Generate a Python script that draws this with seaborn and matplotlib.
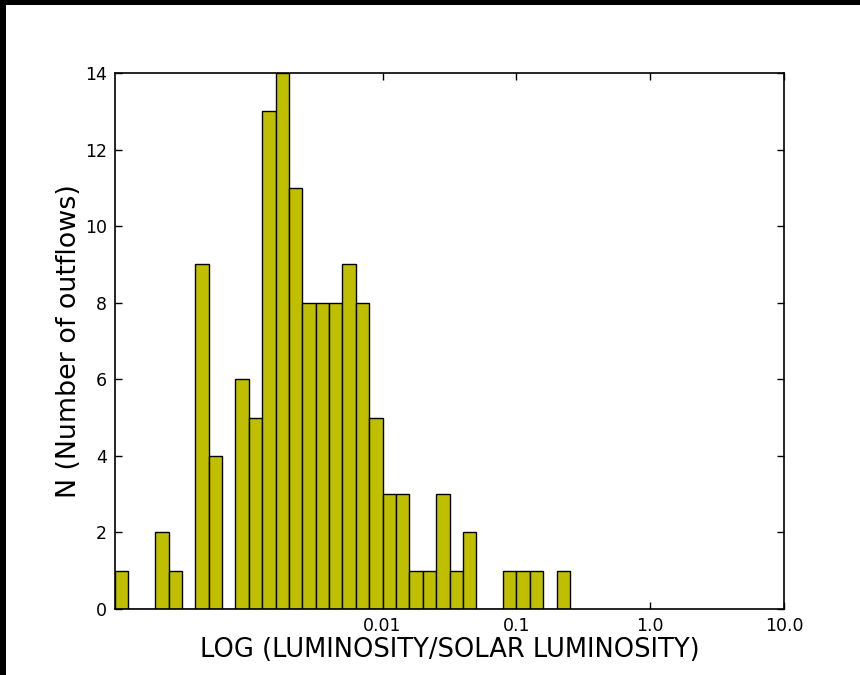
import numpy as np
import pandas as pd
import matplotlib
matplotlib.use("Agg")
import matplotlib.pyplot as plt
import seaborn as sns
from matplotlib.patches import Rectangle

# log10(L/Lsun) bin centres and counts
log_lum = [-3.95, -3.85, -3.75, -3.65, -3.55, -3.45, -3.35, -3.25, -3.15, -3.05,
           -2.95, -2.85, -2.75, -2.65, -2.55, -2.45, -2.35, -2.25, -2.15, -2.05,
           -1.95, -1.85, -1.75, -1.65, -1.55, -1.45, -1.35, -1.25, -1.15, -1.05,
           -0.95, -0.85, -0.75, -0.65]
counts = [1, 0, 0, 2, 1, 0, 9, 4, 0, 6,
          5, 13, 14, 11, 8, 8, 8, 9, 8, 5,
          3, 3, 1, 1, 3, 1, 2, 0, 0, 1,
          1, 1, 0, 1]
bin_edges = [-4.0 + 0.1 * i for i in range(35)]
tick_pos = [-2, -1, 0, 1]
tick_labels = ["0.01", "0.1", "1.0", "10.0"]

sns.set_style("ticks")
plt.rcParams['font.family'] = ['DejaVu Sans']
plt.rcParams['text.color'] = 'black'
plt.rcParams['axes.labelcolor'] = 'black'

df = pd.DataFrame({"loglum": log_lum, "n": counts})

fig = plt.figure(figsize=(8.6, 6.75), dpi=100)
ax = fig.add_axes([115 / 860, 1 - 609 / 675, (784 - 115) / 860, (609 - 73) / 675])

sns.histplot(data=df, x="loglum", weights="n", bins=bin_edges, color=(0.75, 0.75, 0.0),
             edgecolor="black", linewidth=1.0, alpha=1.0, ax=ax)

ax.set_xlim(-4, 1)
ax.set_ylim(0, 14)
ax.set_xticks(tick_pos)
ax.set_xticklabels(tick_labels)
ax.set_yticks(range(0, 15, 2))
ax.tick_params(direction="in", top=True, right=True, length=5, width=1,
               labelsize=12.5, colors="black", pad=6)
for s in ax.spines.values():
    s.set_linewidth(1.2)
    s.set_color("black")
ax.set_xlabel("LOG (LUMINOSITY/SOLAR LUMINOSITY)", fontsize=18.5, labelpad=1)
ax.set_ylabel("N (Number of outflows)", fontsize=19.4, labelpad=2)

# black frame strips at top and left of the figure
fig.patches.append(Rectangle((0, 1 - 5 / 675), 1, 5 / 675, transform=fig.transFigure,
                             facecolor="black", edgecolor="none", zorder=10))
fig.patches.append(Rectangle((0, 0), 6 / 860, 1, transform=fig.transFigure,
                             facecolor="black", edgecolor="none", zorder=10))

fig.savefig("out.png", dpi=100)
